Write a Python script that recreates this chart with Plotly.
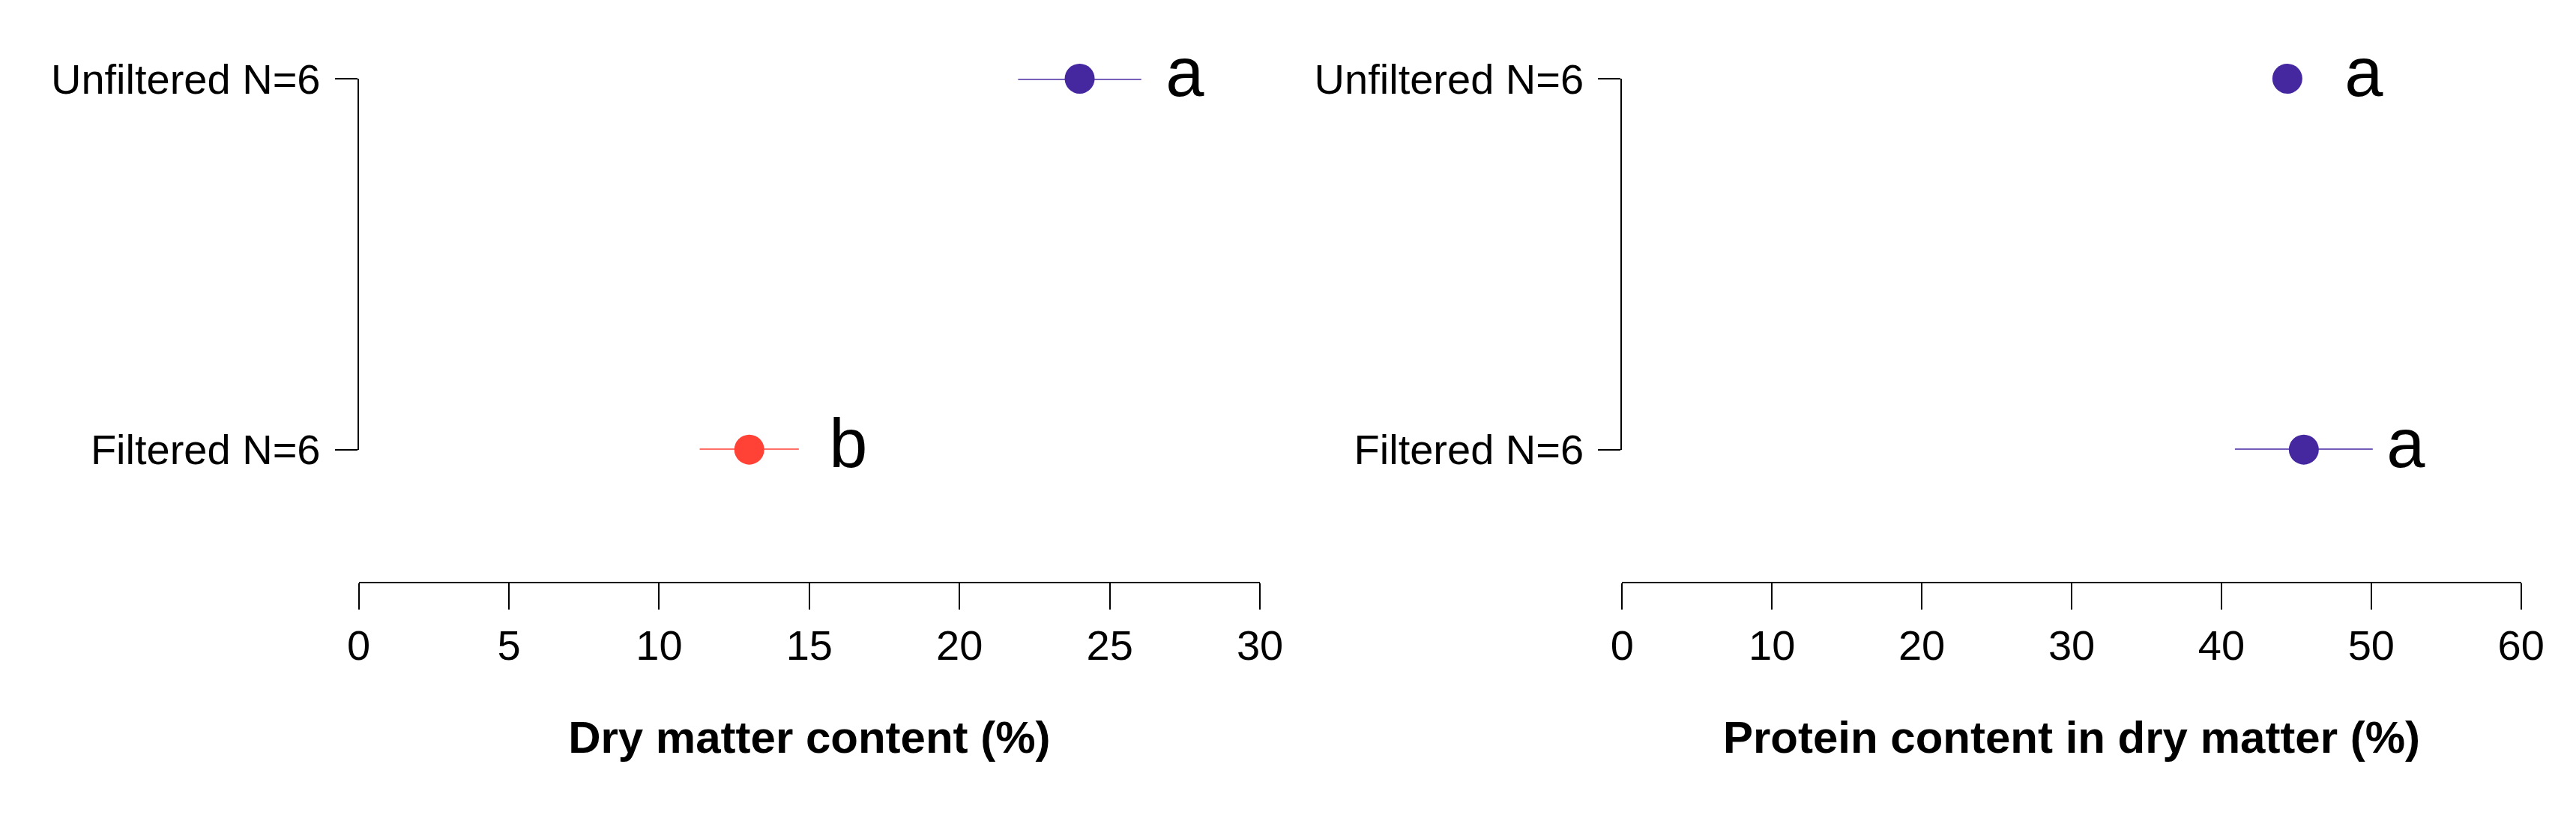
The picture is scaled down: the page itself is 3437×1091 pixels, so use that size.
import plotly.graph_objects as go

groups = ["Filtered N=6", "Unfiltered N=6"]
dry_mean = [13.0, 24.0]
dry_err = [1.65, 2.05]
dry_letters = ["b", "a"]
dry_colors = ["#FF4136", "#4527A0"]
prot_mean = [45.5, 44.4]
prot_err = [4.6, 0.4]
prot_letters = ["a", "a"]
prot_colors = ["#4527A0", "#4527A0"]
letter_x_dry = [16.3, 27.5]
letter_x_prot = [52.3, 49.5]

W, H = 3437, 1091
fig = go.Figure()
for i, g in enumerate(groups):
    fig.add_trace(go.Scatter(x=[dry_mean[i]], y=[i], mode="markers",
        marker=dict(size=40, color=dry_colors[i]),
        error_x=dict(type="data", array=[dry_err[i]], color=dry_colors[i], thickness=3, width=0),
        xaxis="x", yaxis="y", showlegend=False, cliponaxis=False))
    fig.add_trace(go.Scatter(x=[prot_mean[i]], y=[i], mode="markers",
        marker=dict(size=40, color=prot_colors[i]),
        error_x=dict(type="data", array=[prot_err[i]], color=prot_colors[i], thickness=3, width=0),
        xaxis="x2", yaxis="y2", showlegend=False, cliponaxis=False))
    fig.add_trace(go.Scatter(x=[letter_x_dry[i]], y=[i], mode="text", text=[dry_letters[i]],
        textfont=dict(size=92, color="black", family="Liberation Sans"),
        xaxis="x", yaxis="y", showlegend=False, cliponaxis=False))
    fig.add_trace(go.Scatter(x=[letter_x_prot[i]], y=[i], mode="text", text=[prot_letters[i]],
        textfont=dict(size=92, color="black", family="Liberation Sans"),
        xaxis="x2", yaxis="y2", showlegend=False, cliponaxis=False))

ydom = [1 - 595 / H, 1 - 70 / H]
xpos = 1 - 783 / H
tickf = dict(size=56, family="Liberation Sans", color="black")
titlef = dict(size=60, family="Liberation Sans", color="black")

def xa(dom, rng, dt, title):
    return dict(domain=dom, range=rng, dtick=dt, tick0=0, anchor="free", position=xpos,
                showline=True, linecolor="black", linewidth=2, ticks="outside", ticklen=35,
                tickwidth=2, tickcolor="black", showgrid=False, zeroline=False,
                tickfont=tickf, title=dict(text="<b>" + title + "</b>", font=titlef, standoff=70))

def ya(anchor):
    return dict(domain=ydom, range=[0, 1], tickvals=[0, 1], ticktext=groups, anchor=anchor,
                showline=True, linecolor="black", linewidth=2, ticks="outside", ticklen=30,
                tickwidth=2, tickcolor="black", showgrid=False, zeroline=False, tickfont=tickf)

fig.update_layout(
    width=W, height=H, margin=dict(l=0, r=0, t=0, b=0),
    paper_bgcolor="white", plot_bgcolor="white",
    xaxis=xa([461 / W, 1680 / W], [0, 30], 5, "Dry matter content (%)"),
    xaxis2=xa([2170 / W, 3386 / W], [0, 60], 10, "Protein content in dry matter (%)"),
    yaxis=ya("x"), yaxis2=ya("x2"),
)
fig.update_yaxes(ticklabelstandoff=8)
fig.write_html("out.html")
